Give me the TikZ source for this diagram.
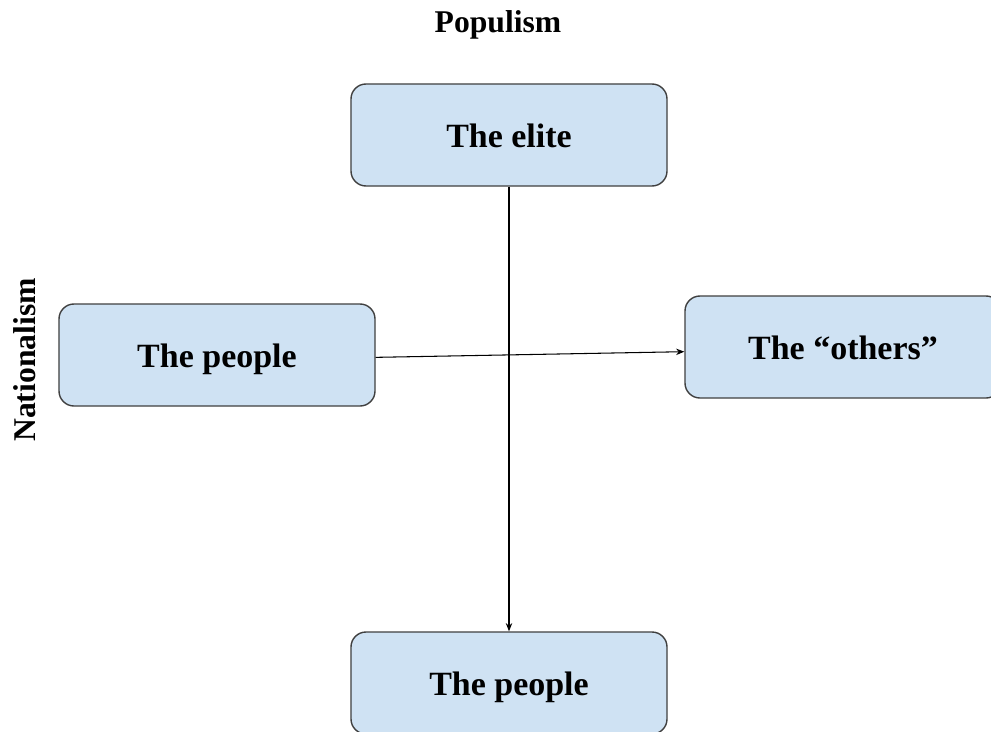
\documentclass[tikz,border=0pt]{standalone}
\usepackage{fontspec}
\setmainfont{Liberation Serif}
\usetikzlibrary{arrows.meta}
\definecolor{boxblue}{HTML}{CFE2F3}
\definecolor{boxline}{HTML}{404040}
\tikzset{
  box/.style={draw=boxline, line width=1.2pt, fill=boxblue, rounded corners=0.45cm,
    minimum width=9.48cm, minimum height=3.06cm, inner sep=0pt,
    text height=22pt, text depth=1pt,
    font=\bfseries\fontsize{29}{34}\selectfont},
  lbl/.style={font=\bfseries\fontsize{27}{32}\selectfont, inner sep=0pt},
  arr/.style={-{Stealth[length=7pt,width=5.5pt]}, line width=0.9pt, black}
}
\begin{document}
\begin{tikzpicture}[x=0.03cm, y=-0.03cm, line join=round]
			\clip (0,0) rectangle (991,731);
			\fill[white] (0,0) rectangle (991,731);
			\node[lbl] (populism) at (498,25) {Populism};
			\node[lbl, rotate=90] (nationalism) at (25,360) {Nationalism};
			\node[box] (elite) at (509,135) {The elite};
			\node[box] (lpeople) at (217,355) {The people};
			\node[box] (others) at (843,347) {The ``others''};
			\node[box] (bpeople) at (509,683) {The people};
			\draw[arr] (elite.south) -- (bpeople.north);
			\draw[arr] ([yshift=-2pt]lpeople.east) -- ([yshift=-4pt]others.west);
		\end{tikzpicture}
\end{document}
